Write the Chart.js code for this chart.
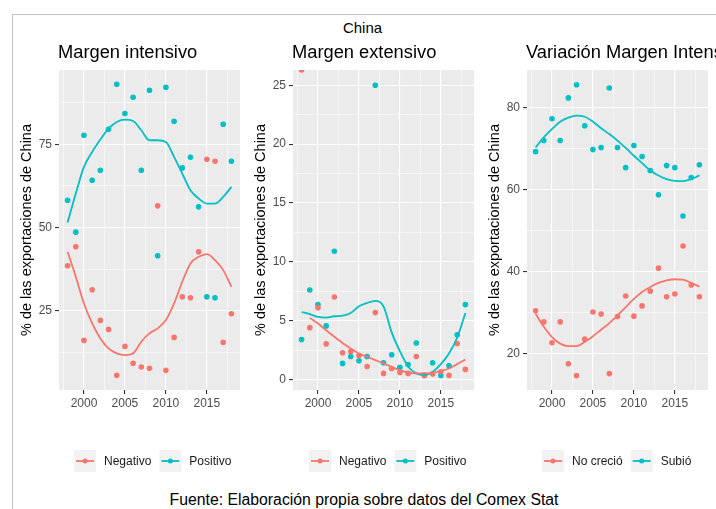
<!DOCTYPE html>
<html>
<head>
<meta charset="utf-8">
<script src="https://cdn.jsdelivr.net/npm/chart.js@4.4.0/dist/chart.umd.min.js"></script>
<style>
  body { margin: 0; width: 716px; height: 509px; overflow: hidden; background: #fff;
         font-family: "Liberation Sans", Arial, sans-serif; position: relative; }
  #frame { position: absolute; left: 12px; top: 14px; width: 740px; height: 540px;
           border-left: 1px solid #c4c4c4; border-top: 1px solid #c4c4c4; }
  .panel { position: absolute; top: 40px; }
  #supTitle { position: absolute; left: 0; width: 725px; top: 19px; line-height: 18px;
              text-align: center; font-size: 15px; color: #000; }
  #caption { position: absolute; left: 0; width: 728px; top: 491px; line-height: 18px;
             text-align: center; font-size: 15.8px; color: #000; }
</style>
</head>
<body>
<div id="frame"></div>
<div id="supTitle">China</div>
<canvas id="p1" class="panel" width="240" height="440" style="left:12px"></canvas>
<canvas id="p2" class="panel" width="240" height="440" style="left:246px"></canvas>
<canvas id="p3" class="panel" width="240" height="440" style="left:480px"></canvas>
<div id="caption">Fuente: Elaboración propia sobre datos del Comex Stat</div>
<script>
const years = [1998, 1999, 2000, 2001, 2002, 2003, 2004, 2005, 2006, 2007, 2008,
               2009, 2010, 2011, 2012, 2013, 2014, 2015, 2016, 2017, 2018];

// Margen intensivo
const intNeg = [38.5, 44.2, 16.1, 31.3, 22.1, 19.4, 5.6, 14.3, 9.2, 8.1, 7.7,
                56.5, 7.1, 17.0, 29.2, 28.9, 42.7, 70.5, 69.9, 15.5, 24.1];
const intPos = [58.2, 48.6, 77.7, 64.2, 67.2, 79.5, 93.0, 84.2, 89.1, 67.2, 91.2,
                41.5, 92.1, 81.9, 67.9, 71.1, 56.2, 29.2, 28.9, 81.0, 69.9];
const intNegFit = [42.7, 35.2, 27.2, 21.2, 16.7, 13.7, 12.2, 11.7, 12.2, 15.7, 18.2,
                   19.7, 22.2, 27.2, 33.7, 39.2, 41.2, 42.0, 40.2, 37.2, 32.2];
const intPosFit = [51.5, 60.2, 68.2, 72.7, 76.4, 79.7, 81.7, 82.4, 82.0, 79.2, 76.2,
                   76.2, 75.7, 71.2, 66.2, 61.2, 58.7, 57.2, 57.2, 59.2, 62.2];

// Margen extensivo
const extNeg = [26.3, 4.4, 6.1, 3.02, 7.0, 2.26, 2.37, 2.03, 1.1, 5.68, 0.51,
                0.93, 0.59, 0.51, 1.95, 0.34, 0.45, 0.65, 0.34, 3.05, 0.85];
const extPos = [3.39, 7.6, 6.36, 4.55, 10.9, 1.36, 1.95, 1.58, 1.95, 25.0, 1.41,
                2.09, 1.02, 1.27, 3.1, 0.34, 1.41, 0.34, 1.16, 3.8, 6.36];
const extNegFit = [null, 5.23, 4.75, 4.18, 3.62, 3.1, 2.63, 2.2, 1.92, 1.64, 1.36,
                   1.07, 0.79, 0.59, 0.51, 0.51, 0.56, 0.71, 0.93, 1.3, 1.7];
const extPosFit = [5.73, 5.54, 5.31, 5.25, 5.37, 5.42, 5.65, 6.21, 6.5, 6.67, 6.21,
                   4.0, 2.4, 1.1, 0.51, 0.37, 0.65, 1.3, 2.2, 3.56, 5.65];

// Variacion margen intensivo
const varNeg = [30.5, 27.8, 22.7, 27.8, 17.6, 14.7, 23.6, 30.2, 29.7, 15.2, 29.1,
                34.1, 29.2, 31.7, 35.3, 40.9, 33.9, 34.6, 46.3, 36.8, 33.9];
const varPos = [69.3, 72.0, 77.3, 72.0, 82.4, 85.6, 75.6, 69.8, 70.3, 84.8, 70.3,
                65.4, 70.8, 68.1, 64.7, 58.8, 65.9, 65.4, 53.6, 63.0, 66.1];
const varNegFit = [29.8, 26.6, 24.1, 22.5, 21.9, 21.9, 22.9, 24.3, 25.9, 27.5, 29.4,
                   31.4, 33.4, 35.1, 36.3, 37.3, 37.9, 38.2, 38.1, 37.3, 36.4];
const varPosFit = [70.3, 72.8, 74.8, 76.6, 77.6, 78.1, 77.8, 76.6, 75.0, 73.6, 72.0,
                   70.2, 68.3, 66.5, 64.7, 63.5, 62.6, 62.2, 62.1, 62.6, 63.5];

const xTicks = [1997.5, 2000, 2002.5, 2005, 2007.5, 2010, 2012.5, 2015, 2017.5];

const RED = "#F8766D";
const TEAL = "#00BFC4";
const FONT = '"Liberation Sans", Arial, sans-serif';

Chart.defaults.font.family = FONT;

function toPoints(vals) {
  return years.map((y, i) => ({ x: y, y: vals[i] })).filter((p) => p.y !== null);
}

// panel background, title and ggplot-like legend
const ggDecor = {
  id: "ggDecor",
  beforeDraw(chart, args, opts) {
    const { ctx, chartArea: a } = chart;
    ctx.save();
    ctx.fillStyle = "#EBEBEB";
    ctx.fillRect(a.left, a.top, a.width, a.height);
    ctx.fillStyle = "#000";
    ctx.font = "18.3px " + FONT;
    ctx.textBaseline = "alphabetic";
    ctx.fillText(opts.title, a.left - 1, a.top - 12);
    ctx.restore();
  },
  afterDraw(chart, args, opts) {
    const ctx = chart.ctx;
    let x = opts.x;
    const yc = opts.y;
    ctx.save();
    ctx.font = "12px " + FONT;
    ctx.textBaseline = "middle";
    chart.data.datasets.slice(0, 2).forEach((ds) => {
      ctx.fillStyle = "#F2F2F2";
      ctx.fillRect(x, yc - 11, 22, 22);
      ctx.strokeStyle = ds.backgroundColor;
      ctx.lineWidth = 1.8;
      ctx.beginPath();
      ctx.moveTo(x + 2, yc);
      ctx.lineTo(x + 20, yc);
      ctx.stroke();
      ctx.fillStyle = ds.backgroundColor;
      ctx.beginPath();
      ctx.arc(x + 11, yc, 2.5, 0, Math.PI * 2);
      ctx.fill();
      ctx.fillStyle = "#1A1A1A";
      ctx.fillText(ds.label, x + 30, yc + 1);
      x += 30 + ctx.measureText(ds.label).width + 8;
    });
    ctx.restore();
  },
};

function makePanel(id, cfg) {
  const isMajorY = (v) => Math.abs(v / cfg.yStep - Math.round(v / cfg.yStep)) < 1e-6;
  const isMajorX = (v) => v % 5 === 0;
  const pointSet = (label, vals, color) => ({
    label: label,
    data: toPoints(vals),
    backgroundColor: color,
    borderColor: color,
    pointRadius: 2.8,
    pointBorderWidth: 0,
    showLine: false,
    clip: 0,
    order: 2,
  });
  const fitSet = (vals, color) => ({
    type: "line",
    data: toPoints(vals),
    borderColor: color,
    backgroundColor: color,
    borderWidth: 1.8,
    pointRadius: 0,
    fill: false,
    cubicInterpolationMode: "monotone",
    clip: 0,
    order: 1,
  });

  return new Chart(document.getElementById(id), {
    type: "scatter",
    data: {
      datasets: [
        pointSet(cfg.labels[0], cfg.neg, RED),
        pointSet(cfg.labels[1], cfg.pos, TEAL),
        fitSet(cfg.negFit, RED),
        fitSet(cfg.posFit, TEAL),
      ],
    },
    options: {
      responsive: false,
      animation: false,
      events: [],
      devicePixelRatio: 1,
      layout: { autoPadding: false, padding: { left: 0, right: 12, top: 30, bottom: 0 } },
      scales: {
        x: {
          type: "linear",
          min: 1996.95,
          max: 2019.05,
          afterBuildTicks: (s) => { s.ticks = xTicks.map((v) => ({ value: v })); },
          afterFit: (s) => { s.height = 90; },
          ticks: {
            autoSkip: false,
            maxRotation: 0,
            padding: 2,
            color: "#4D4D4D",
            font: { size: 12 },
            callback: (v) => (isMajorX(v) ? String(v) : ""),
          },
          grid: {
            color: "#FFFFFF",
            lineWidth: (c) => (c.tick && isMajorX(c.tick.value) ? 1.1 : 0.55),
            tickLength: 4,
            tickColor: (c) => (c.tick && isMajorX(c.tick.value) ? "#333333" : "rgba(0,0,0,0)"),
          },
          border: { display: false },
        },
        y: {
          min: cfg.yMin,
          max: cfg.yMax,
          afterBuildTicks: (s) => { s.ticks = cfg.yTicks.map((v) => ({ value: v })); },
          afterFit: (s) => { s.width = 47; },
          title: {
            display: true,
            text: "% de las exportaciones de China",
            color: "#000",
            font: { size: 14.5 },
            padding: { top: 6, bottom: 0 },
          },
          ticks: {
            padding: 3,
            color: "#4D4D4D",
            font: { size: 12 },
            callback: (v) => (isMajorY(v) ? String(v) : ""),
          },
          grid: {
            color: "#FFFFFF",
            lineWidth: (c) => (c.tick && isMajorY(c.tick.value) ? 1.1 : 0.55),
            tickLength: 4,
            tickColor: (c) => (c.tick && isMajorY(c.tick.value) ? "#333333" : "rgba(0,0,0,0)"),
          },
          border: { display: false },
        },
      },
      plugins: {
        legend: { display: false },
        tooltip: { enabled: false },
        ggDecor: { title: cfg.title, x: cfg.legendX, y: 421 },
      },
    },
    plugins: [ggDecor],
  });
}

makePanel("p1", {
  title: "Margen intensivo",
  labels: ["Negativo", "Positivo"],
  neg: intNeg, pos: intPos, negFit: intNegFit, posFit: intPosFit,
  yMin: 1.2, yMax: 97.3, yStep: 25,
  yTicks: [12.5, 25, 37.5, 50, 62.5, 75, 87.5],
  legendX: 62,
});

makePanel("p2", {
  title: "Margen extensivo",
  labels: ["Negativo", "Positivo"],
  neg: extNeg, pos: extPos, negFit: extNegFit, posFit: extPosFit,
  yMin: -0.9, yMax: 26.3, yStep: 5,
  yTicks: [0, 2.5, 5, 7.5, 10, 12.5, 15, 17.5, 20, 22.5, 25],
  legendX: 63,
});

makePanel("p3", {
  title: "Variación Margen Intensivo",
  labels: ["No creció", "Subió"],
  neg: varNeg, pos: varPos, negFit: varNegFit, posFit: varPosFit,
  yMin: 11.2, yMax: 89.2, yStep: 20,
  yTicks: [20, 30, 40, 50, 60, 70, 80],
  legendX: 62,
});
</script>
</body>
</html>
